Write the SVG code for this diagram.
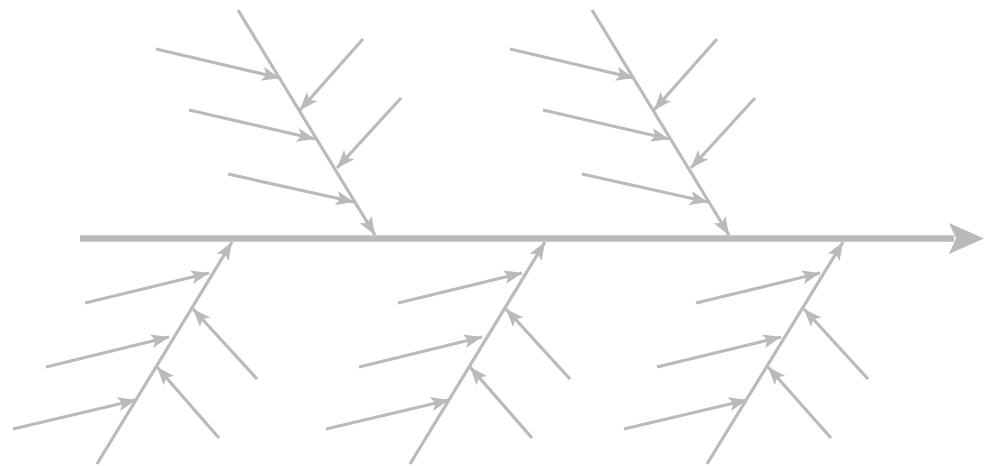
<svg xmlns="http://www.w3.org/2000/svg" width="984" height="466" viewBox="0 0 984 466">
<style>
.b{stroke:#bababa;stroke-width:3.2;fill:none;marker-end:url(#ah)}
.s{stroke:#bababa;stroke-width:6.5;fill:none}
</style>
<defs>
<marker id="ah" markerUnits="userSpaceOnUse" markerWidth="20" markerHeight="16" refX="18" refY="7" orient="auto">
<path d="M0,0 L18,7 L0,14 L4,7 Z" fill="#bababa"/>
</marker>
</defs>
<rect width="984" height="466" fill="#ffffff"/>
<g id="spine">
<line class="s" x1="80" y1="238.5" x2="954" y2="238.5"/>
<path d="M949,223 L984,238.5 L949,254 L956,238.5 Z" fill="#bababa"/>
</g>
<g id="connectors">
<g id="top1">
<line class="b" x1="238" y1="10" x2="375" y2="235"/>
<line class="b" x1="156" y1="49" x2="280" y2="78"/>
<line class="b" x1="189" y1="110" x2="315" y2="139"/>
<line class="b" x1="228" y1="174" x2="354" y2="202"/>
<line class="b" x1="363" y1="39" x2="300" y2="110"/>
<line class="b" x1="401" y1="98" x2="337" y2="168"/>
</g>
<g id="top2">
<line class="b" x1="592" y1="10" x2="729" y2="235"/>
<line class="b" x1="510" y1="49" x2="634" y2="78"/>
<line class="b" x1="543" y1="110" x2="669" y2="139"/>
<line class="b" x1="582" y1="174" x2="708" y2="202"/>
<line class="b" x1="717" y1="39" x2="654" y2="110"/>
<line class="b" x1="755" y1="98" x2="691" y2="168"/>
</g>
<g id="bottom1">
<line class="b" x1="97" y1="464" x2="232" y2="242"/>
<line class="b" x1="85" y1="303" x2="209" y2="273"/>
<line class="b" x1="46" y1="367" x2="169" y2="337"/>
<line class="b" x1="13" y1="429" x2="136" y2="400"/>
<line class="b" x1="257" y1="379" x2="193" y2="309"/>
<line class="b" x1="219" y1="438" x2="157" y2="367"/>
</g>
<g id="bottom2">
<line class="b" x1="410" y1="464" x2="545" y2="242"/>
<line class="b" x1="398" y1="303" x2="522" y2="273"/>
<line class="b" x1="359" y1="367" x2="482" y2="337"/>
<line class="b" x1="326" y1="429" x2="449" y2="400"/>
<line class="b" x1="570" y1="379" x2="506" y2="309"/>
<line class="b" x1="532" y1="438" x2="470" y2="367"/>
</g>
<g id="bottom3">
<line class="b" x1="707" y1="464" x2="843" y2="242"/>
<line class="b" x1="696" y1="303" x2="820" y2="273"/>
<line class="b" x1="657" y1="367" x2="781" y2="337"/>
<line class="b" x1="624" y1="429" x2="747" y2="400"/>
<line class="b" x1="868" y1="379" x2="804" y2="309"/>
<line class="b" x1="831" y1="438" x2="768" y2="367"/>
</g>
</g>
</svg>
